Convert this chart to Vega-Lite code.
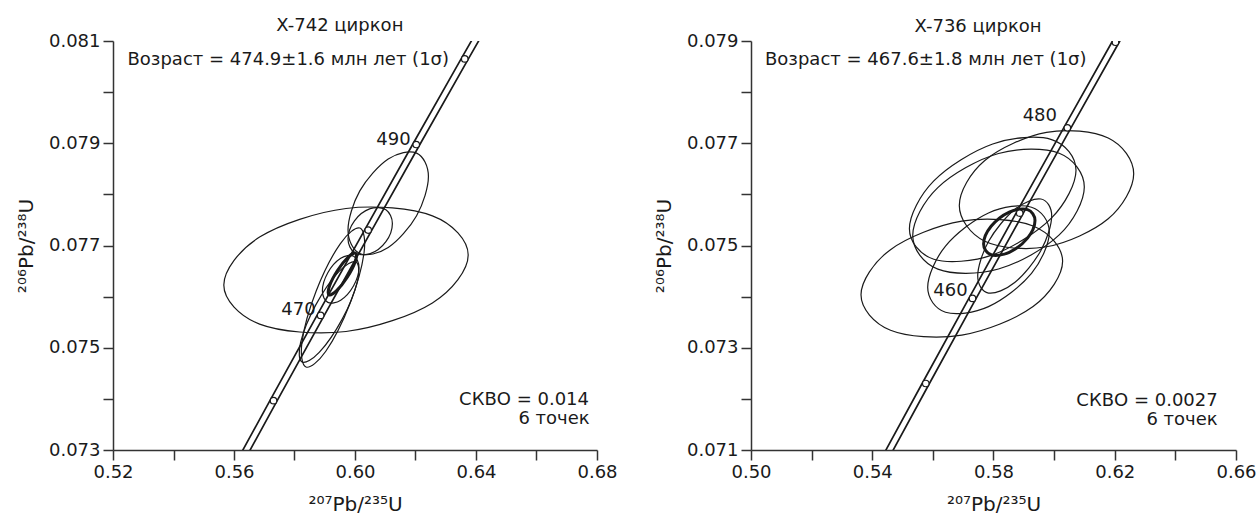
{
  "$schema": "https://vega.github.io/schema/vega-lite/v6.json",
  "padding": {"left": 16, "top": 17, "right": 5, "bottom": 5},
  "config": {
    "view": {"stroke": null},
    "font": "DejaVu Sans",
    "concat": {"spacing": 36},
    "axis": {"domainColor": "#333333", "tickColor": "#333333", "labelColor": "#1a1a1a", "titleColor": "#1a1a1a", "labelFont": "DejaVu Sans", "titleFont": "DejaVu Sans", "labelFontSize": 18, "titleFontSize": 20, "titleFontWeight": "normal", "grid": false, "tickSize": 10, "labelPadding": 3, "domainWidth": 1.5, "tickWidth": 1.5, "labelFlush": false, "labelOverlap": false},
    "text": {"font": "DejaVu Sans", "fontSize": 18, "color": "#1a1a1a"}
  },
  "datasets": {
    "ell": [
      {"p":"L","e":"L1","kind":"analysis","i":0,"x":0.63742,"y":0.076814},{"p":"L","e":"L1","kind":"analysis","i":1,"x":0.62559,"y":0.075877},{"p":"L","e":"L1","kind":"analysis","i":2,"x":0.59703,"y":0.075318},{"p":"L","e":"L1","kind":"analysis","i":3,"x":0.56846,"y":0.075463},{"p":"L","e":"L1","kind":"analysis","i":4,"x":0.55663,"y":0.076227},{"p":"L","e":"L1","kind":"analysis","i":5,"x":0.56846,"y":0.077164},{"p":"L","e":"L1","kind":"analysis","i":6,"x":0.59703,"y":0.077724},{"p":"L","e":"L1","kind":"analysis","i":7,"x":0.62559,"y":0.077579},
      {"p":"L","e":"L2","kind":"analysis","i":0,"x":0.62427,"y":0.078348},{"p":"L","e":"L2","kind":"analysis","i":1,"x":0.62036,"y":0.077583},{"p":"L","e":"L2","kind":"analysis","i":2,"x":0.61098,"y":0.076959},{"p":"L","e":"L2","kind":"analysis","i":3,"x":0.60159,"y":0.076843},{"p":"L","e":"L2","kind":"analysis","i":4,"x":0.59769,"y":0.077303},{"p":"L","e":"L2","kind":"analysis","i":5,"x":0.60159,"y":0.078068},{"p":"L","e":"L2","kind":"analysis","i":6,"x":0.61098,"y":0.078692},{"p":"L","e":"L2","kind":"analysis","i":7,"x":0.62036,"y":0.078807},
      {"p":"L","e":"L3","kind":"analysis","i":0,"x":0.61236,"y":0.077432},{"p":"L","e":"L3","kind":"analysis","i":1,"x":0.61022,"y":0.077076},{"p":"L","e":"L3","kind":"analysis","i":2,"x":0.60503,"y":0.07684},{"p":"L","e":"L3","kind":"analysis","i":3,"x":0.59983,"y":0.076861},{"p":"L","e":"L3","kind":"analysis","i":4,"x":0.59769,"y":0.077127},{"p":"L","e":"L3","kind":"analysis","i":5,"x":0.59983,"y":0.077483},{"p":"L","e":"L3","kind":"analysis","i":6,"x":0.60503,"y":0.07772},{"p":"L","e":"L3","kind":"analysis","i":7,"x":0.61022,"y":0.077698},
      {"p":"L","e":"L4","kind":"analysis","i":0,"x":0.60132,"y":0.076568},{"p":"L","e":"L4","kind":"analysis","i":1,"x":0.59954,"y":0.076212},{"p":"L","e":"L4","kind":"analysis","i":2,"x":0.59527,"y":0.075929},{"p":"L","e":"L4","kind":"analysis","i":3,"x":0.59101,"y":0.075887},{"p":"L","e":"L4","kind":"analysis","i":4,"x":0.58922,"y":0.07611},{"p":"L","e":"L4","kind":"analysis","i":5,"x":0.59101,"y":0.076466},{"p":"L","e":"L4","kind":"analysis","i":6,"x":0.59527,"y":0.076749},{"p":"L","e":"L4","kind":"analysis","i":7,"x":0.59954,"y":0.076791},
      {"p":"L","e":"L5","kind":"analysis","i":0,"x":0.60165,"y":0.077342},{"p":"L","e":"L5","kind":"analysis","i":1,"x":0.60298,"y":0.076853},{"p":"L","e":"L5","kind":"analysis","i":2,"x":0.59828,"y":0.075856},{"p":"L","e":"L5","kind":"analysis","i":3,"x":0.59035,"y":0.074932},{"p":"L","e":"L5","kind":"analysis","i":4,"x":0.5838,"y":0.074623},{"p":"L","e":"L5","kind":"analysis","i":5,"x":0.58248,"y":0.075112},{"p":"L","e":"L5","kind":"analysis","i":6,"x":0.58717,"y":0.07611},{"p":"L","e":"L5","kind":"analysis","i":7,"x":0.59511,"y":0.077033},
      {"p":"L","e":"L6","kind":"analysis","i":0,"x":0.60033,"y":0.076677},{"p":"L","e":"L6","kind":"analysis","i":1,"x":0.60079,"y":0.076294},{"p":"L","e":"L6","kind":"analysis","i":2,"x":0.59577,"y":0.07556},{"p":"L","e":"L6","kind":"analysis","i":3,"x":0.58817,"y":0.074909},{"p":"L","e":"L6","kind":"analysis","i":4,"x":0.58248,"y":0.074721},{"p":"L","e":"L6","kind":"analysis","i":5,"x":0.58202,"y":0.075105},{"p":"L","e":"L6","kind":"analysis","i":6,"x":0.58704,"y":0.075838},{"p":"L","e":"L6","kind":"analysis","i":7,"x":0.59465,"y":0.076489},
      {"p":"L","e":"LM","kind":"mean","i":0,"x":0.6002,"y":0.076847},{"p":"L","e":"LM","kind":"mean","i":1,"x":0.60007,"y":0.076683},{"p":"L","e":"LM","kind":"mean","i":2,"x":0.59745,"y":0.07638},{"p":"L","e":"LM","kind":"mean","i":3,"x":0.59385,"y":0.076112},{"p":"L","e":"LM","kind":"mean","i":4,"x":0.59141,"y":0.076038},{"p":"L","e":"LM","kind":"mean","i":5,"x":0.59154,"y":0.076202},{"p":"L","e":"LM","kind":"mean","i":6,"x":0.59415,"y":0.076505},{"p":"L","e":"LM","kind":"mean","i":7,"x":0.59775,"y":0.076773},
      {"p":"R","e":"R1","kind":"analysis","i":0,"x":0.62625,"y":0.076404},{"p":"R","e":"R1","kind":"analysis","i":1,"x":0.61784,"y":0.075523},{"p":"R","e":"R1","kind":"analysis","i":2,"x":0.59749,"y":0.074975},{"p":"R","e":"R1","kind":"analysis","i":3,"x":0.57713,"y":0.075084},{"p":"R","e":"R1","kind":"analysis","i":4,"x":0.56872,"y":0.075784},{"p":"R","e":"R1","kind":"analysis","i":5,"x":0.57713,"y":0.076664},{"p":"R","e":"R1","kind":"analysis","i":6,"x":0.59749,"y":0.077213},{"p":"R","e":"R1","kind":"analysis","i":7,"x":0.61784,"y":0.077104},
      {"p":"R","e":"R2","kind":"analysis","i":0,"x":0.60722,"y":0.076474},{"p":"R","e":"R2","kind":"analysis","i":1,"x":0.59917,"y":0.075539},{"p":"R","e":"R2","kind":"analysis","i":2,"x":0.57974,"y":0.074817},{"p":"R","e":"R2","kind":"analysis","i":3,"x":0.56031,"y":0.074731},{"p":"R","e":"R2","kind":"analysis","i":4,"x":0.55226,"y":0.075329},{"p":"R","e":"R2","kind":"analysis","i":5,"x":0.56031,"y":0.076264},{"p":"R","e":"R2","kind":"analysis","i":6,"x":0.57974,"y":0.076986},{"p":"R","e":"R2","kind":"analysis","i":7,"x":0.59917,"y":0.077072},
      {"p":"R","e":"R3","kind":"analysis","i":0,"x":0.60996,"y":0.076145},{"p":"R","e":"R3","kind":"analysis","i":1,"x":0.60168,"y":0.075207},{"p":"R","e":"R3","kind":"analysis","i":2,"x":0.58165,"y":0.074541},{"p":"R","e":"R3","kind":"analysis","i":3,"x":0.56163,"y":0.074537},{"p":"R","e":"R3","kind":"analysis","i":4,"x":0.55335,"y":0.075196},{"p":"R","e":"R3","kind":"analysis","i":5,"x":0.56163,"y":0.076133},{"p":"R","e":"R3","kind":"analysis","i":6,"x":0.58165,"y":0.0768},{"p":"R","e":"R3","kind":"analysis","i":7,"x":0.60168,"y":0.076804},
      {"p":"R","e":"R4","kind":"analysis","i":0,"x":0.6028,"y":0.07469},{"p":"R","e":"R4","kind":"analysis","i":1,"x":0.59306,"y":0.073805},{"p":"R","e":"R4","kind":"analysis","i":2,"x":0.56954,"y":0.073248},{"p":"R","e":"R4","kind":"analysis","i":3,"x":0.54602,"y":0.073343},{"p":"R","e":"R4","kind":"analysis","i":4,"x":0.53629,"y":0.074035},{"p":"R","e":"R4","kind":"analysis","i":5,"x":0.54602,"y":0.074919},{"p":"R","e":"R4","kind":"analysis","i":6,"x":0.56954,"y":0.075476},{"p":"R","e":"R4","kind":"analysis","i":7,"x":0.59306,"y":0.075382},
      {"p":"R","e":"R5","kind":"analysis","i":0,"x":0.59841,"y":0.07526},{"p":"R","e":"R5","kind":"analysis","i":1,"x":0.59254,"y":0.074454},{"p":"R","e":"R5","kind":"analysis","i":2,"x":0.57835,"y":0.073805},{"p":"R","e":"R5","kind":"analysis","i":3,"x":0.56417,"y":0.073694},{"p":"R","e":"R5","kind":"analysis","i":4,"x":0.55829,"y":0.074182},{"p":"R","e":"R5","kind":"analysis","i":5,"x":0.56417,"y":0.074988},{"p":"R","e":"R5","kind":"analysis","i":6,"x":0.57835,"y":0.075637},{"p":"R","e":"R5","kind":"analysis","i":7,"x":0.59254,"y":0.075749},
      {"p":"R","e":"R6","kind":"analysis","i":0,"x":0.5992,"y":0.075578},{"p":"R","e":"R6","kind":"analysis","i":1,"x":0.59564,"y":0.074902},{"p":"R","e":"R6","kind":"analysis","i":2,"x":0.58699,"y":0.074276},{"p":"R","e":"R6","kind":"analysis","i":3,"x":0.57835,"y":0.07407},{"p":"R","e":"R6","kind":"analysis","i":4,"x":0.57479,"y":0.074401},{"p":"R","e":"R6","kind":"analysis","i":5,"x":0.57835,"y":0.075078},{"p":"R","e":"R6","kind":"analysis","i":6,"x":0.58699,"y":0.075704},{"p":"R","e":"R6","kind":"analysis","i":7,"x":0.59564,"y":0.075909},
      {"p":"R","e":"RM","kind":"mean","i":0,"x":0.59369,"y":0.07549},{"p":"R","e":"RM","kind":"mean","i":1,"x":0.59122,"y":0.075145},{"p":"R","e":"RM","kind":"mean","i":2,"x":0.58521,"y":0.074866},{"p":"R","e":"RM","kind":"mean","i":3,"x":0.57921,"y":0.074819},{"p":"R","e":"RM","kind":"mean","i":4,"x":0.57673,"y":0.075031},{"p":"R","e":"RM","kind":"mean","i":5,"x":0.57921,"y":0.075376},{"p":"R","e":"RM","kind":"mean","i":6,"x":0.58521,"y":0.075655},{"p":"R","e":"RM","kind":"mean","i":7,"x":0.59122,"y":0.075702}
    ],
    "band": [
      {"s":"a","t":430,"x":0.526076,"y":0.068979},{"s":"a","t":440,"x":0.541192,"y":0.070638},{"s":"a","t":450,"x":0.556456,"y":0.072301},{"s":"a","t":460,"x":0.571873,"y":0.073965},{"s":"a","t":470,"x":0.587442,"y":0.075632},{"s":"a","t":480,"x":0.603165,"y":0.077302},{"s":"a","t":490,"x":0.619044,"y":0.078975},{"s":"a","t":500,"x":0.635079,"y":0.08065},{"s":"a","t":510,"x":0.651274,"y":0.082327},
      {"s":"b","t":430,"x":0.528476,"y":0.068979},{"s":"b","t":440,"x":0.543592,"y":0.070638},{"s":"b","t":450,"x":0.558856,"y":0.072301},{"s":"b","t":460,"x":0.574273,"y":0.073965},{"s":"b","t":470,"x":0.589842,"y":0.075632},{"s":"b","t":480,"x":0.605565,"y":0.077302},{"s":"b","t":490,"x":0.621444,"y":0.078975},{"s":"b","t":500,"x":0.637479,"y":0.08065},{"s":"b","t":510,"x":0.653674,"y":0.082327}
    ],
    "ages": [
      {"t":450,"x":0.557656,"y":0.072301},{"t":460,"x":0.573073,"y":0.073965},{"t":470,"x":0.588642,"y":0.075632},{"t":480,"x":0.604365,"y":0.077302},{"t":490,"x":0.620244,"y":0.078975},{"t":500,"x":0.636279,"y":0.08065}
    ],
    "txt": [
      {"p":"L","kind":"title","t":"X-742 циркон","x":0.595,"y":0.081293},
      {"p":"L","kind":"age","t":"Возраст = 474.9±1.6 млн лет (1σ)","x":0.524793,"y":0.080628},
      {"p":"L","kind":"stat","t":"СКВО = 0.014","x":0.677356,"y":0.07398},
      {"p":"L","kind":"stat","t":"6 точек","x":0.67758,"y":0.073609},
      {"p":"L","kind":"tick","t":"490","x":0.618413,"y":0.079064},
      {"p":"L","kind":"tick","t":"470","x":0.587009,"y":0.075744},
      {"p":"R","kind":"title","t":"X-736 циркон","x":0.5749,"y":0.07928},
      {"p":"R","kind":"age","t":"Возраст = 467.6±1.8 млн лет (1σ)","x":0.504619,"y":0.078627},
      {"p":"R","kind":"stat","t":"СКВО = 0.0027","x":0.653964,"y":0.07196},
      {"p":"R","kind":"stat","t":"6 точек","x":0.653964,"y":0.071588},
      {"p":"R","kind":"tick","t":"480","x":0.600949,"y":0.077533},
      {"p":"R","kind":"tick","t":"460","x":0.571489,"y":0.074101}
    ]
  },
  "hconcat": [
    {
      "width": 484,
      "height": 409,
      "encoding": {
        "x": {"field": "x", "type": "quantitative", "scale": {"domain": [0.52, 0.68], "nice": false, "zero": false}, "axis": {"values": [0.52, 0.54, 0.56, 0.58, 0.6, 0.62, 0.64, 0.66, 0.68], "labelExpr": "round(datum.value*100)%4==0 ? format(datum.value,'.2f') : ''", "title": "²⁰⁷Pb/²³⁵U", "titlePadding": 13}},
        "y": {"field": "y", "type": "quantitative", "scale": {"domain": [0.073, 0.081], "nice": false, "zero": false}, "axis": {"values": [0.073, 0.074, 0.075, 0.076, 0.077, 0.078, 0.079, 0.08, 0.081], "labelExpr": "round(datum.value*1000)%2==1 ? format(datum.value,'.3f') : ''", "title": "²⁰⁶Pb/²³⁸U", "titlePadding": 12}}
      },
      "layer": [
        {"data": {"name": "band"}, "mark": {"type": "line", "clip": true, "stroke": "#1a1a1a", "strokeWidth": 1.7}, "encoding": {"detail": {"field": "s"}, "order": {"field": "t", "type": "quantitative"}}},
        {"data": {"name": "ell"}, "transform": [{"filter": "datum.p == 'L' && datum.kind == 'analysis'"}], "mark": {"type": "line", "interpolate": "cardinal-closed", "stroke": "#1a1a1a", "strokeWidth": 1.2}, "encoding": {"detail": {"field": "e"}, "order": {"field": "i", "type": "quantitative"}}},
        {"data": {"name": "ell"}, "transform": [{"filter": "datum.p == 'L' && datum.kind == 'mean'"}], "mark": {"type": "line", "interpolate": "cardinal-closed", "stroke": "#1a1a1a", "strokeWidth": 3}, "encoding": {"detail": {"field": "e"}, "order": {"field": "i", "type": "quantitative"}}},
        {"data": {"name": "ages"}, "mark": {"type": "point", "clip": true, "shape": "circle", "filled": false, "fill": "white", "fillOpacity": 1, "stroke": "#1a1a1a", "strokeWidth": 1.2, "size": 42}},
        {"data": {"name": "txt"}, "transform": [{"filter": "datum.p == 'L' && datum.kind == 'title'"}], "mark": {"type": "text", "align": "center", "baseline": "middle"}, "encoding": {"text": {"field": "t"}}},
        {"data": {"name": "txt"}, "transform": [{"filter": "datum.p == 'L' && datum.kind == 'age'"}], "mark": {"type": "text", "align": "left", "baseline": "middle"}, "encoding": {"text": {"field": "t"}}},
        {"data": {"name": "txt"}, "transform": [{"filter": "datum.p == 'L' && (datum.kind == 'stat' || datum.kind == 'tick')"}], "mark": {"type": "text", "align": "right", "baseline": "middle"}, "encoding": {"text": {"field": "t"}}}
      ]
    },
    {
      "width": 485,
      "height": 409,
      "encoding": {
        "x": {"field": "x", "type": "quantitative", "scale": {"domain": [0.5, 0.66], "nice": false, "zero": false}, "axis": {"values": [0.5, 0.52, 0.54, 0.56, 0.58, 0.6, 0.62, 0.64, 0.66], "labelExpr": "round(datum.value*100)%4==2 ? format(datum.value,'.2f') : ''", "title": "²⁰⁷Pb/²³⁵U", "titlePadding": 13}},
        "y": {"field": "y", "type": "quantitative", "scale": {"domain": [0.071, 0.079], "nice": false, "zero": false}, "axis": {"values": [0.071, 0.072, 0.073, 0.074, 0.075, 0.076, 0.077, 0.078, 0.079], "labelExpr": "round(datum.value*1000)%2==1 ? format(datum.value,'.3f') : ''", "title": "²⁰⁶Pb/²³⁸U", "titlePadding": 12}}
      },
      "layer": [
        {"data": {"name": "band"}, "mark": {"type": "line", "clip": true, "stroke": "#1a1a1a", "strokeWidth": 1.7}, "encoding": {"detail": {"field": "s"}, "order": {"field": "t", "type": "quantitative"}}},
        {"data": {"name": "ell"}, "transform": [{"filter": "datum.p == 'R' && datum.kind == 'analysis'"}], "mark": {"type": "line", "interpolate": "cardinal-closed", "stroke": "#1a1a1a", "strokeWidth": 1.2}, "encoding": {"detail": {"field": "e"}, "order": {"field": "i", "type": "quantitative"}}},
        {"data": {"name": "ell"}, "transform": [{"filter": "datum.p == 'R' && datum.kind == 'mean'"}], "mark": {"type": "line", "interpolate": "cardinal-closed", "stroke": "#1a1a1a", "strokeWidth": 3}, "encoding": {"detail": {"field": "e"}, "order": {"field": "i", "type": "quantitative"}}},
        {"data": {"name": "ages"}, "mark": {"type": "point", "clip": true, "shape": "circle", "filled": false, "fill": "white", "fillOpacity": 1, "stroke": "#1a1a1a", "strokeWidth": 1.2, "size": 42}},
        {"data": {"name": "txt"}, "transform": [{"filter": "datum.p == 'R' && datum.kind == 'title'"}], "mark": {"type": "text", "align": "center", "baseline": "middle"}, "encoding": {"text": {"field": "t"}}},
        {"data": {"name": "txt"}, "transform": [{"filter": "datum.p == 'R' && datum.kind == 'age'"}], "mark": {"type": "text", "align": "left", "baseline": "middle"}, "encoding": {"text": {"field": "t"}}},
        {"data": {"name": "txt"}, "transform": [{"filter": "datum.p == 'R' && (datum.kind == 'stat' || datum.kind == 'tick')"}], "mark": {"type": "text", "align": "right", "baseline": "middle"}, "encoding": {"text": {"field": "t"}}}
      ]
    }
  ]
}
